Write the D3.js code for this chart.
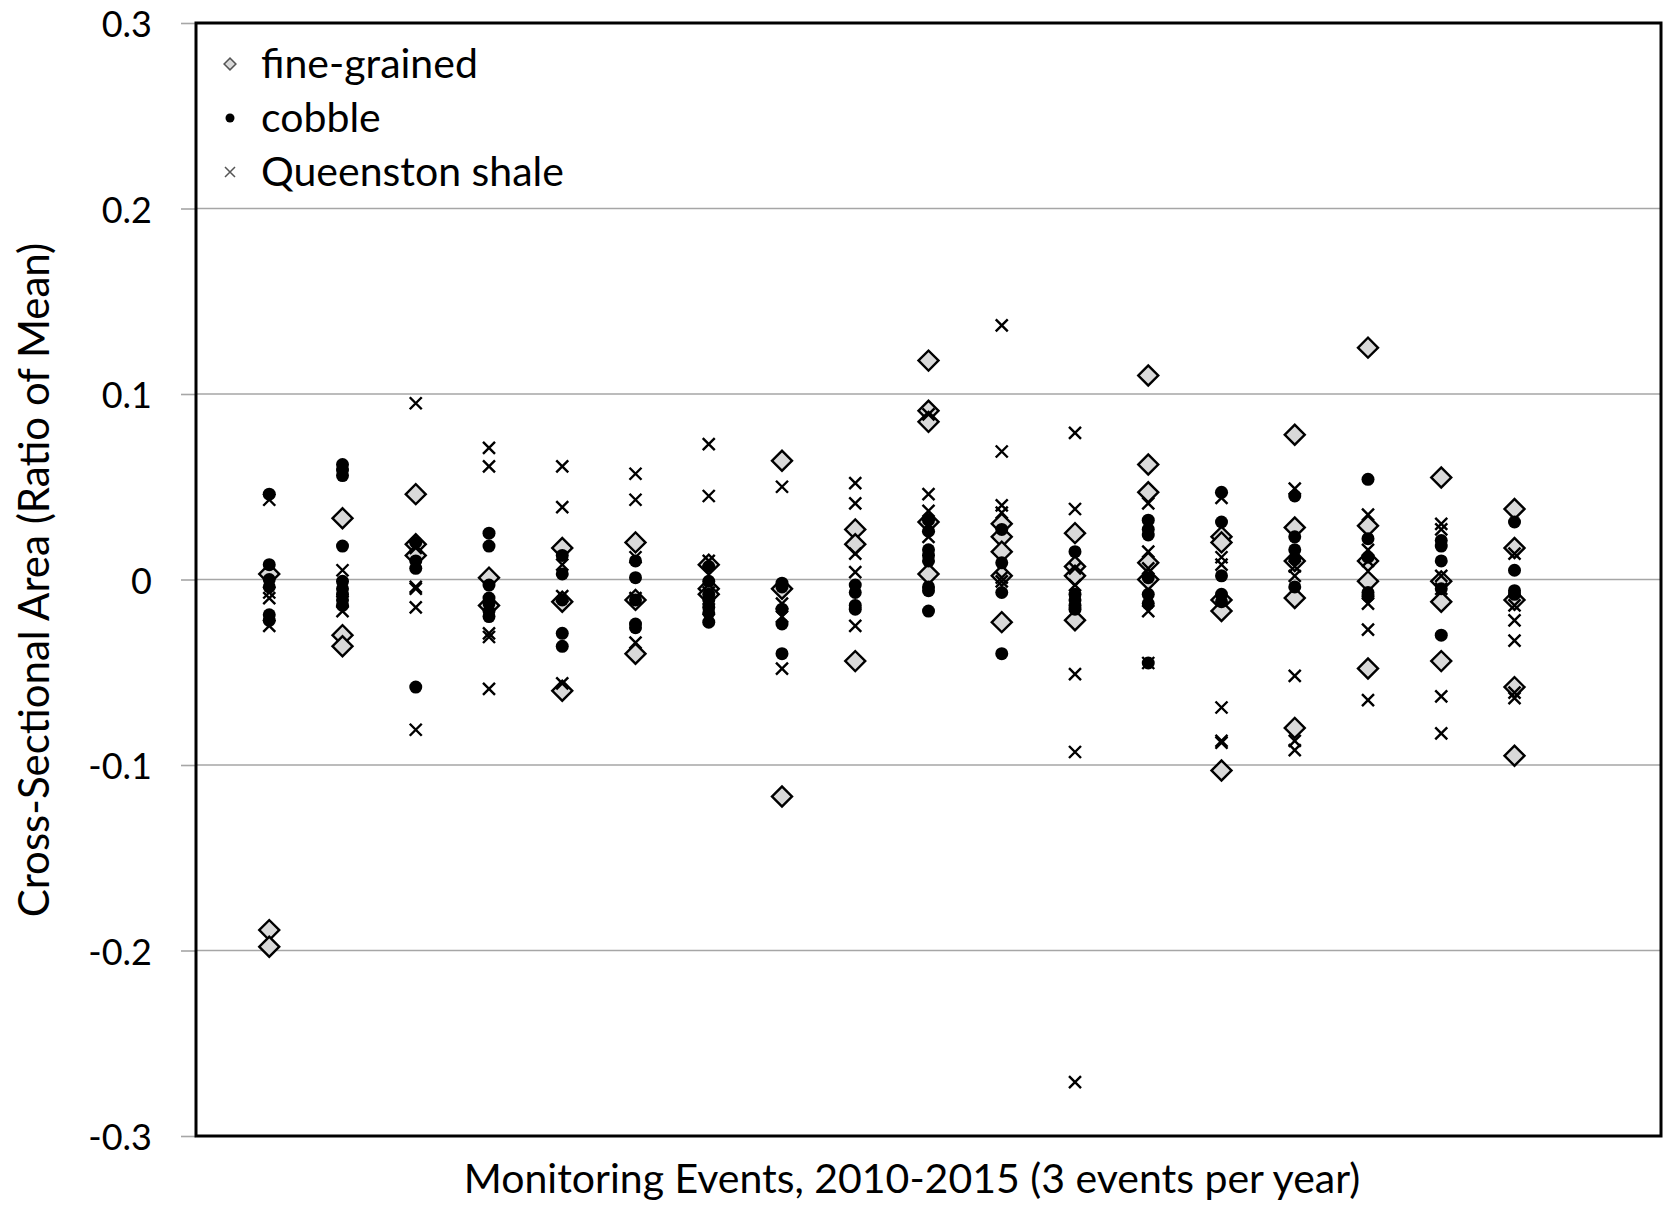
<!DOCTYPE html>
<html>
<head>
<meta charset="utf-8">
<script src="https://cdn.jsdelivr.net/npm/d3@7"></script>
<style>
  body { margin: 0; background: #fff; }
  text { font-family: Lato, "Open Sans", sans-serif; fill: #000; }
</style>
</head>
<body>
<script>
(function(){

//event numbers along the x axis (3 events per year, 2010-2015)
var events = [1, 2, 3, 4, 5, 6, 7, 8, 9, 10, 11, 12, 13, 14, 15, 16, 17, 18];

//values per event
var fineGrained = [
    [0.003, -0.189, -0.198],
    [0.033, -0.030, -0.036],
    [0.046, 0.019, 0.013],
    [0.001, -0.014],
    [0.017, -0.012, -0.060],
    [0.020, -0.011, -0.040],
    [0.008, -0.005, -0.008],
    [0.064, -0.005, -0.117],
    [0.027, 0.019, -0.044],
    [0.118, 0.091, 0.085, 0.031, 0.003],
    [0.030, 0.023, 0.015, 0.002, -0.023],
    [0.025, 0.007, 0.002, -0.022],
    [0.110, 0.062, 0.047, 0.009, 0.000],
    [0.023, 0.020, -0.011, -0.017, -0.103],
    [0.078, 0.028, 0.010, -0.010, -0.080],
    [0.125, 0.029, 0.010, -0.001, -0.048],
    [0.055, -0.001, -0.012, -0.044],
    [0.038, 0.017, -0.011, -0.058, -0.095]
];
var cobble = [
    [0.046, 0.008, 0.000, -0.004, -0.019, -0.022],
    [0.062, 0.059, 0.056, 0.018, -0.001, -0.005, -0.008, -0.011, -0.014],
    [0.020, 0.010, 0.006, -0.058],
    [0.025, 0.018, -0.003, -0.010, -0.013, -0.017, -0.020],
    [0.013, 0.003, -0.011, -0.029, -0.036],
    [0.010, 0.001, -0.011, -0.024, -0.026],
    [0.007, -0.001, -0.008, -0.011, -0.015, -0.018, -0.023],
    [-0.002, -0.004, -0.016, -0.024, -0.040],
    [-0.003, -0.007, -0.014, -0.016],
    [0.032, 0.026, 0.016, 0.013, 0.010, -0.004, -0.006, -0.017],
    [0.027, 0.009, -0.007, -0.040],
    [0.015, -0.008, -0.011, -0.014, -0.016],
    [0.032, 0.027, 0.024, 0.001, -0.008, -0.013, -0.045],
    [0.047, 0.031, 0.002, -0.008, -0.012],
    [0.045, 0.023, 0.016, 0.011, -0.004],
    [0.054, 0.022, 0.012, -0.007, -0.009],
    [0.021, 0.018, 0.010, -0.005, -0.030],
    [0.031, 0.005, -0.006, -0.008]
];
var queenstonShale = [
    [0.043, -0.007, -0.010, -0.025],
    [0.005, -0.012, -0.017],
    [0.095, 0.017, -0.004, -0.005, -0.015, -0.081],
    [0.071, 0.061, -0.029, -0.031, -0.059],
    [0.061, 0.039, 0.008, -0.009, -0.056],
    [0.057, 0.043, 0.012, -0.010, -0.034],
    [0.073, 0.045, 0.010, -0.007, -0.016],
    [0.050, -0.013, -0.020, -0.048],
    [0.052, 0.041, 0.014, 0.004, -0.025],
    [0.089, 0.046, 0.037, 0.023],
    [0.137, 0.069, 0.040, 0.036, 0.001, -0.001],
    [0.079, 0.038, 0.006, -0.003, -0.051, -0.093, -0.271],
    [0.041, 0.015, 0.006, -0.017, -0.045],
    [0.044, 0.012, 0.008, -0.069, -0.087, -0.088],
    [0.049, 0.007, 0.002, -0.052, -0.087, -0.092],
    [0.035, 0.016, 0.010, -0.013, -0.027, -0.065],
    [0.030, 0.027, 0.002, -0.005, -0.063, -0.083],
    [0.014, -0.014, -0.022, -0.033, -0.061, -0.064]
];

var yTicks = [-0.3, -0.2, -0.1, 0, 0.1, 0.2, 0.3];
var seriesNames = ["fine-grained", "cobble", "Queenston shale"];

window.onload = drawChart();

function drawChart(){

    var width = 1664,
        height = 1208;

    //plot area edges
    var left = 196, right = 1661, top = 23, bottom = 1136;

    var svg = d3.select("body")
        .append("svg")
        .attr("width", width)
        .attr("height", height);

    var x = d3.scaleLinear()
        .domain([0, 20])
        .range([left, right]);

    var y = d3.scaleLinear()
        .domain([-0.3, 0.3])
        .range([bottom, top]);

    //gridlines
    svg.selectAll(".grid")
        .data(yTicks.slice(1, -1))
        .enter()
        .append("line")
        .attr("x1", left).attr("x2", right)
        .attr("y1", function(d){ return y(d); })
        .attr("y2", function(d){ return y(d); })
        .attr("stroke", "#a6a6a6")
        .attr("stroke-width", 1.6);

    //y axis with outward ticks, plain hyphen for negatives
    var yAxis = d3.axisLeft(y)
        .tickValues(yTicks)
        .tickSize(15)
        .tickPadding(29)
        .tickFormat(function(d){ return d === 0 ? "0" : d.toFixed(1); });

    var ya = svg.append("g")
        .attr("transform", "translate(" + left + ",0)")
        .call(yAxis);
    ya.select(".domain").remove();
    ya.selectAll(".tick line").attr("stroke", "#a6a6a6").attr("stroke-width", 1.6);
    ya.selectAll(".tick text")
        .attr("dy", "0.38em")
        .style("font-family", "Lato, sans-serif")
        .style("font-size", "36px")
        .attr("fill", "#000");

    //flatten each series into points
    function points(series){
        var out = [];
        series.forEach(function(vals, i){
            vals.forEach(function(v){ out.push({ev: events[i], val: v}); });
        });
        return out;
    }

    var diamond = d3.symbol().type(d3.symbolSquare).size(200);

    svg.append("g").selectAll("path")
        .data(points(fineGrained))
        .enter()
        .append("path")
        .attr("d", diamond)
        .attr("transform", function(d){
            return "translate(" + x(d.ev) + "," + y(d.val) + ") rotate(45)";
        })
        .attr("fill", "#d9d9d9")
        .attr("stroke", "#000")
        .attr("stroke-width", 2.4);

    svg.append("g").selectAll("circle")
        .data(points(cobble))
        .enter()
        .append("circle")
        .attr("cx", function(d){ return x(d.ev); })
        .attr("cy", function(d){ return y(d.val); })
        .attr("r", 6.5)
        .attr("fill", "#000");

    //x marks
    var cross = "M-6,-6L6,6M-6,6L6,-6";
    svg.append("g").selectAll("path")
        .data(points(queenstonShale))
        .enter()
        .append("path")
        .attr("d", cross)
        .attr("transform", function(d){
            return "translate(" + x(d.ev) + "," + y(d.val) + ")";
        })
        .attr("fill", "none")
        .attr("stroke", "#000")
        .attr("stroke-width", 2.4);

    //plot frame
    svg.append("rect")
        .attr("x", left).attr("y", top)
        .attr("width", right - left).attr("height", bottom - top)
        .attr("fill", "none")
        .attr("stroke", "#000")
        .attr("stroke-width", 3);

    //legend
    var legend = svg.append("g")
        .attr("transform", "translate(230,64)");
    var rowGap = 54;

    legend.append("path")
        .attr("d", d3.symbol().type(d3.symbolSquare).size(70))
        .attr("transform", "rotate(45)")
        .attr("fill", "#d9d9d9")
        .attr("stroke", "#555")
        .attr("stroke-width", 1.5);
    legend.append("circle")
        .attr("cy", rowGap)
        .attr("r", 4.5)
        .attr("fill", "#000");
    legend.append("path")
        .attr("d", "M-5,-5L5,5M-5,5L5,-5")
        .attr("transform", "translate(0," + (rowGap * 2) + ")")
        .attr("stroke", "#555")
        .attr("stroke-width", 1.5);

    legend.selectAll("text")
        .data(seriesNames)
        .enter()
        .append("text")
        .attr("x", 31)
        .attr("y", function(d, i){ return i * rowGap; })
        .attr("dy", "0.35em")
        .style("font-size", "41px")
        .text(function(d){ return d; });

    //axis titles
    svg.append("text")
        .attr("x", 912)
        .attr("y", 1193)
        .attr("text-anchor", "middle")
        .style("font-size", "41px")
        .text("Monitoring Events, 2010-2015 (3 events per year)");

    svg.append("text")
        .attr("transform", "translate(49," + 580 + ") rotate(-90)")
        .attr("text-anchor", "middle")
        .style("font-size", "42px")
        .text("Cross-Sectional Area (Ratio of Mean)");
}

})();
</script>
</body>
</html>
